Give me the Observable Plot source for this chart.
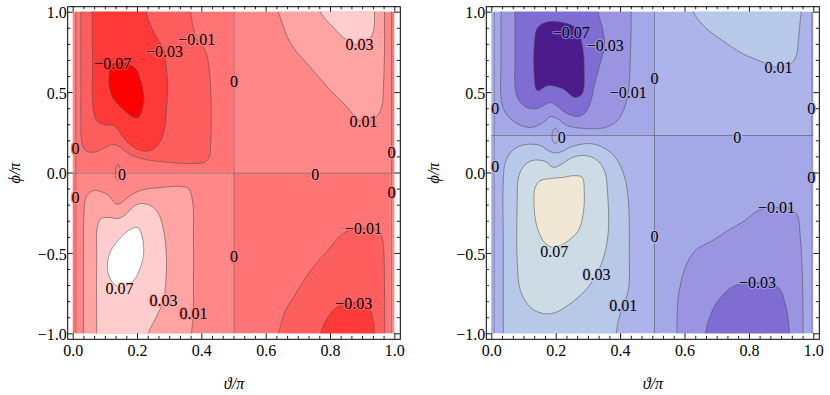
<!DOCTYPE html>
<html><head><meta charset="utf-8">
<script src="https://cdn.jsdelivr.net/npm/d3@7"></script>
<script src="https://cdn.jsdelivr.net/npm/@observablehq/plot@0.6"></script>
<style>
body{margin:0;background:#fff;font-family:"Liberation Serif","Times New Roman",serif;}
#wrap{display:flex;width:830px;height:395px;overflow:hidden;}
#wrap svg{display:block;flex:none;font-family:"Liberation Serif","Times New Roman",serif !important;}
#wrap svg text, #wrap svg g{font-family:"Liberation Serif","Times New Roman",serif !important;}
</style></head><body><div id="wrap"></div>
<script>
// contour levels and band colours (8 bands between the 7 levels)
const levels = [-0.07, -0.03, -0.01, 0, 0.01, 0.03, 0.07];
const redColors = ["#ff0000", "#ff3838", "#ff5e5e", "#ff7575", "#ff8787", "#ffa3a3", "#ffcdcd", "#ffffff"];
const purpleColors = ["#4b1b8b", "#7f6dd3", "#9b94e1", "#a4a8e7", "#acb4ea", "#b8c8e8", "#cddbe4", "#f1e7d5"];

// tick values and labels
const xTickValues = [0, 0.2, 0.4, 0.6, 0.8, 1];
const xTickLabels = ["0.0", "0.2", "0.4", "0.6", "0.8", "1.0"];
const yTickValues = [-1, -0.5, 0, 0.5, 1];
const yTickLabels = ["\u22121.0", "\u22120.5", "0.0", "0.5", "1.0"];

// ---------- left panel (red) ----------
const leftZeroTheta = [0, 0.008, 0.5, 0.989, 1];
const leftZeroPhi = [-1, 0, 1];
const leftSigns = [[-1, 1, -1, 1], [1, -1, 1, -1]]; // rows: phi bands bottom->top
const L_tl_m001 = [[0.024,1.2],[0.024,1.0],[0.024,0.70],[0.024,0.33],[0.026,0.20],[0.038,0.14],[0.069,0.13],[0.100,0.16],[0.125,0.177],[0.147,0.159],[0.178,0.115],[0.225,0.084],[0.304,0.065],[0.381,0.059],[0.410,0.068],[0.423,0.10],[0.427,0.16],[0.429,0.33],[0.426,0.575],[0.411,0.76],[0.384,0.83],[0.372,0.92],[0.365,1.0],[0.365,1.2]];
const L_tl_m003 = [[0.059,1.2],[0.059,1.0],[0.060,0.70],[0.063,0.39],[0.076,0.32],[0.100,0.30],[0.125,0.295],[0.141,0.264],[0.169,0.19],[0.209,0.14],[0.240,0.14],[0.262,0.17],[0.281,0.245],[0.290,0.39],[0.293,0.575],[0.287,0.70],[0.284,0.755],[0.256,0.855],[0.234,0.95],[0.228,1.0],[0.228,1.2]];
const L_tl_m007 = [[0.125,0.680],[0.165,0.680],[0.194,0.650],[0.209,0.575],[0.219,0.482],[0.215,0.401],[0.203,0.345],[0.184,0.351],[0.153,0.401],[0.125,0.463],[0.113,0.532],[0.113,0.625]];
const L_bl_p001 = [[0.032,-1.2],[0.032,-1.0],[0.032,-0.544],[0.034,-0.233],[0.041,-0.146],[0.063,-0.109],[0.085,-0.115],[0.110,-0.140],[0.132,-0.19],[0.147,-0.19],[0.169,-0.152],[0.209,-0.109],[0.271,-0.09],[0.334,-0.084],[0.358,-0.096],[0.371,-0.171],[0.374,-0.42],[0.374,-0.73],[0.374,-0.874],[0.368,-1.0],[0.368,-1.2]];
const L_bl_p003 = [[0.073,-1.2],[0.073,-1.0],[0.073,-0.544],[0.076,-0.327],[0.088,-0.283],[0.116,-0.277],[0.141,-0.283],[0.163,-0.258],[0.188,-0.208],[0.209,-0.19],[0.240,-0.202],[0.265,-0.252],[0.284,-0.389],[0.290,-0.544],[0.287,-0.70],[0.281,-0.793],[0.256,-0.905],[0.234,-1.0],[0.228,-1.2]];
const L_bl_p007 = [[0.200,-0.339],[0.215,-0.401],[0.219,-0.501],[0.209,-0.588],[0.188,-0.669],[0.153,-0.712],[0.125,-0.687],[0.107,-0.606],[0.113,-0.501],[0.135,-0.432],[0.172,-0.358]];
const L_tr_p001 = [[0.600,1.2],[0.638,1.0],[0.676,0.805],[0.738,0.656],[0.800,0.513],[0.853,0.407],[0.878,0.345],[0.903,0.320],[0.940,0.345],[0.959,0.407],[0.965,0.557],[0.968,0.762],[0.968,1.0],[0.968,1.2]];
const L_tr_p003 = [[0.740,1.2],[0.769,1.0],[0.809,0.905],[0.840,0.843],[0.868,0.805],[0.890,0.799],[0.918,0.824],[0.934,0.886],[0.937,1.0],[0.937,1.2]];
const L_br_m001 = [[0.610,-1.2],[0.638,-1.0],[0.660,-0.855],[0.685,-0.774],[0.738,-0.606],[0.791,-0.482],[0.840,-0.376],[0.872,-0.351],[0.903,-0.345],[0.940,-0.351],[0.959,-0.395],[0.966,-0.501],[0.968,-0.712],[0.969,-1.0],[0.969,-1.2]];
const L_br_m003 = [[0.760,-1.2],[0.769,-1.0],[0.791,-0.899],[0.819,-0.836],[0.847,-0.812],[0.872,-0.806],[0.903,-0.812],[0.924,-0.855],[0.934,-0.936],[0.937,-1.0],[0.937,-1.2]];
const L_zeroIsland = [[0.139,0.056],[0.146,0.03],[0.147,0.0],[0.145,-0.03],[0.139,-0.045],[0.132,-0.03],[0.131,0.0],[0.133,0.03]];
const leftContours = [
  {level: -0.01, pts: L_tl_m001}, {level: -0.03, pts: L_tl_m003}, {level: -0.07, pts: L_tl_m007},
  {level: 0.01, pts: L_bl_p001}, {level: 0.03, pts: L_bl_p003}, {level: 0.07, pts: L_bl_p007},
  {level: 0.01, pts: L_tr_p001}, {level: 0.03, pts: L_tr_p003},
  {level: -0.01, pts: L_br_m001}, {level: -0.03, pts: L_br_m003}
];
const leftLabels = [
  {t:"\u22120.07", x:0.123, y:0.678, bg:-0.04},
  {t:"\u22120.03", x:0.284, y:0.756, bg:-0.02},
  {t:"\u22120.01", x:0.384, y:0.830, bg:-0.005},
  {t:"0.03", x:0.890, y:0.799, bg:0.02},
  {t:"0.01", x:0.903, y:0.320, bg:0.005},
  {t:"\u22120.01", x:0.903, y:-0.345, bg:-0.005},
  {t:"\u22120.03", x:0.872, y:-0.812, bg:-0.02},
  {t:"0.07", x:0.144, y:-0.718, bg:0.04},
  {t:"0.03", x:0.281, y:-0.793, bg:0.02},
  {t:"0.01", x:0.374, y:-0.874, bg:0.005},
  {t:"0", x:0.007, y:0.152, bg:-0.005},
  {t:"0", x:0.007, y:-0.152, bg:0.005},
  {t:"0", x:0.152, y:-0.009, bg:0.005},
  {t:"0", x:0.5, y:0.569, bg:-0.005},
  {t:"0", x:0.753, y:-0.009, bg:0.005},
  {t:"0", x:0.99, y:0.127, bg:0.005},
  {t:"0", x:0.99, y:-0.121, bg:-0.005},
  {t:"0", x:0.5, y:-0.519, bg:-0.005}
];

// ---------- right panel (purple) ----------
const rightZeroTheta = [0, 0.007, 0.505, 0.994, 1];
const rightZeroPhi = [-1, 0.233, 1];
const rightSigns = [[-1, 1, -1, 1], [1, -1, 1, -1]];
const R_tl_m001 = [[0.0286,1.2],[0.0286,1.0],[0.0286,0.700],[0.0295,0.451],[0.042,0.376],[0.073,0.314],[0.120,0.283],[0.160,0.314],[0.182,0.351],[0.203,0.339],[0.234,0.295],[0.290,0.277],[0.352,0.283],[0.390,0.326],[0.411,0.401],[0.424,0.501],[0.430,0.700],[0.433,1.0],[0.433,1.2]];
const R_tl_m003 = [[0.072,1.2],[0.072,1.0],[0.072,0.700],[0.073,0.525],[0.085,0.451],[0.110,0.407],[0.141,0.401],[0.166,0.426],[0.182,0.438],[0.200,0.420],[0.228,0.376],[0.266,0.351],[0.290,0.376],[0.308,0.451],[0.318,0.544],[0.335,0.669],[0.350,0.793],[0.345,0.886],[0.331,1.0],[0.331,1.2]];
const R_tl_m007 = [[0.141,0.513],[0.175,0.544],[0.219,0.525],[0.259,0.470],[0.281,0.494],[0.287,0.637],[0.281,0.793],[0.262,0.899],[0.219,0.936],[0.166,0.936],[0.141,0.899],[0.132,0.793],[0.132,0.606]];
const R_bl_p001 = [[0.0357,-1.2],[0.0357,-1.0],[0.0357,-0.482],[0.0357,-0.047],[0.042,0.065],[0.064,0.140],[0.104,0.177],[0.151,0.171],[0.175,0.140],[0.194,0.125],[0.213,0.130],[0.250,0.165],[0.306,0.183],[0.352,0.152],[0.384,0.096],[0.411,-0.016],[0.424,-0.171],[0.427,-0.482],[0.424,-0.731],[0.408,-0.824],[0.393,-0.917],[0.387,-1.0],[0.387,-1.2]];
const R_bl_p003 = [[0.079,-0.171],[0.082,-0.034],[0.098,0.040],[0.126,0.078],[0.166,0.072],[0.191,0.035],[0.213,0.050],[0.250,0.096],[0.290,0.109],[0.328,0.078],[0.352,0.003],[0.359,-0.109],[0.362,-0.358],[0.349,-0.513],[0.325,-0.631],[0.290,-0.731],[0.244,-0.812],[0.197,-0.868],[0.160,-0.874],[0.120,-0.836],[0.089,-0.731],[0.079,-0.544]];
const R_bl_p007 = [[0.135,-0.090],[0.151,-0.047],[0.182,-0.034],[0.219,-0.028],[0.259,-0.016],[0.281,-0.028],[0.287,-0.109],[0.284,-0.252],[0.269,-0.358],[0.238,-0.420],[0.213,-0.451],[0.191,-0.463],[0.166,-0.438],[0.144,-0.358],[0.132,-0.233]];
const R_tr_p001 = [[0.600,1.2],[0.626,1.0],[0.663,0.905],[0.716,0.824],[0.778,0.743],[0.828,0.700],[0.859,0.675],[0.890,0.656],[0.927,0.675],[0.946,0.731],[0.952,0.824],[0.958,0.948],[0.961,1.0],[0.961,1.2]];
const R_br_m001 = [[0.575,-1.2],[0.575,-1.0],[0.579,-0.774],[0.601,-0.588],[0.632,-0.482],[0.685,-0.420],[0.734,-0.358],[0.787,-0.295],[0.828,-0.233],[0.884,-0.215],[0.927,-0.221],[0.949,-0.264],[0.958,-0.401],[0.964,-0.606],[0.967,-1.0],[0.967,-1.2]];
const R_br_m003 = [[0.655,-1.2],[0.663,-1.0],[0.685,-0.855],[0.716,-0.762],[0.756,-0.700],[0.825,-0.681],[0.890,-0.712],[0.911,-0.812],[0.921,-0.917],[0.924,-1.0],[0.924,-1.2]];
const R_zeroIsland = [[0.197,0.277],[0.205,0.26],[0.207,0.23],[0.205,0.20],[0.197,0.183],[0.189,0.20],[0.187,0.23],[0.189,0.26]];
const rightContours = [
  {level: -0.01, pts: R_tl_m001}, {level: -0.03, pts: R_tl_m003}, {level: -0.07, pts: R_tl_m007},
  {level: 0.01, pts: R_bl_p001}, {level: 0.03, pts: R_bl_p003}, {level: 0.07, pts: R_bl_p007},
  {level: 0.01, pts: R_tr_p001},
  {level: -0.01, pts: R_br_m001}, {level: -0.03, pts: R_br_m003}
];
const rightLabels = [
  {t:"\u22120.07", x:0.247, y:0.874, bg:-0.04},
  {t:"\u22120.03", x:0.352, y:0.793, bg:-0.02},
  {t:"\u22120.01", x:0.424, y:0.501, bg:-0.005},
  {t:"0.01", x:0.890, y:0.656, bg:0.005},
  {t:"\u22120.01", x:0.884, y:-0.215, bg:-0.005},
  {t:"\u22120.03", x:0.825, y:-0.681, bg:-0.02},
  {t:"0.07", x:0.194, y:-0.488, bg:0.04},
  {t:"0.03", x:0.325, y:-0.631, bg:0.02},
  {t:"0.01", x:0.408, y:-0.824, bg:0.005},
  {t:"0", x:0.011, y:0.401, bg:-0.005},
  {t:"0", x:0.011, y:0.040, bg:0.005},
  {t:"0", x:0.217, y:0.221, bg:0.005},
  {t:"0", x:0.505, y:0.588, bg:-0.005},
  {t:"0", x:0.762, y:0.221, bg:0.005},
  {t:"0", x:0.992, y:0.401, bg:0.005},
  {t:"0", x:0.992, y:-0.028, bg:-0.005},
  {t:"0", x:0.505, y:-0.395, bg:0.005}
];

const SERIF = "Liberation Serif, Times New Roman, serif";

function makePanel(cfg) {
  const {width, marginLeft, marginRight, colors, zeroTheta, zeroPhi, signs, contourList, island, labels} = cfg;
  const height = 395, marginTop = 11.7, marginBottom = 61.7;
  const pw = width - marginLeft - marginRight;
  const ph = height - marginTop - marginBottom;
  const pad = 5.5, majorLen = 5.5, minorLen = 3;
  const cells = [];
  for (let i = 0; i < zeroPhi.length - 1; i++)
    for (let j = 0; j < zeroTheta.length - 1; j++)
      cells.push({x1: zeroTheta[j], x2: zeroTheta[j + 1], y1: zeroPhi[i], y2: zeroPhi[i + 1], v: signs[i][j] * 0.005});
  const rows = contourList.flatMap((c, k) => c.pts.map(([x, y]) => ({id: k, x, y, v: c.level + Math.sign(c.level) * 0.01})));
  const islandRows = island.map(([x, y]) => ({x, y}));
  const lineStyle = {stroke: "#4a4a4a", strokeOpacity: 0.6, strokeWidth: 0.9};
  const near = (a, v) => a.some(t => Math.abs(t - v) < 1e-9);
  const xMinor = d3.range(31).map(i => i / 30).filter(v => !near(xTickValues, v));
  const yMinor = d3.range(21).map(i => -1 + i / 10).filter(v => !near(yTickValues, v));
  const tk = {stroke: "black", strokeWidth: 0.9};
  const fs = 16;
  const txt = {fontFamily: SERIF, fontSize: fs, fill: "black"};
  return Plot.plot({
    width, height, marginLeft, marginRight, marginTop, marginBottom,
    style: {background: "white", overflow: "visible", fontFamily: SERIF},
    x: {domain: [0, 1], axis: null},
    y: {domain: [-1, 1], axis: null},
    color: {type: "threshold", domain: levels, range: colors},
    marks: [
      Plot.rect(cells, {x1: "x1", x2: "x2", y1: "y1", y2: "y2", fill: "v"}),
      Plot.line(rows, {x: "x", y: "y", z: "id", fill: "v", curve: "catmull-rom-closed", clip: true, ...lineStyle}),
      Plot.ruleX(zeroTheta.slice(1, -1), lineStyle),
      Plot.ruleY(zeroPhi.slice(1, -1), lineStyle),
      Plot.line(islandRows, {x: "x", y: "y", curve: "catmull-rom-closed", fill: "none", ...lineStyle}),
      Plot.text(labels, {x: "x", y: "y", text: "t", stroke: "bg", strokeWidth: 2.5, paintOrder: "stroke", ...txt}),
      Plot.frame({inset: -pad, stroke: "black", strokeWidth: 1}),
      // inward ticks on all four sides
      Plot.tickX(xTickValues, {x: d => d, insetBottom: -pad, insetTop: ph + pad - majorLen, ...tk}),
      Plot.tickX(xMinor, {x: d => d, insetBottom: -pad, insetTop: ph + pad - minorLen, ...tk}),
      Plot.tickX(xTickValues, {x: d => d, insetTop: -pad, insetBottom: ph + pad - majorLen, ...tk}),
      Plot.tickX(xMinor, {x: d => d, insetTop: -pad, insetBottom: ph + pad - minorLen, ...tk}),
      Plot.tickY(yTickValues, {y: d => d, insetLeft: -pad, insetRight: pw + pad - majorLen, ...tk}),
      Plot.tickY(yMinor, {y: d => d, insetLeft: -pad, insetRight: pw + pad - minorLen, ...tk}),
      Plot.tickY(yTickValues, {y: d => d, insetRight: -pad, insetLeft: pw + pad - majorLen, ...tk}),
      Plot.tickY(yMinor, {y: d => d, insetRight: -pad, insetLeft: pw + pad - minorLen, ...tk}),
      // tick labels
      Plot.text(xTickValues, {x: d => d, y: () => -1, text: (d, i) => xTickLabels[i], dy: 17, ...txt}),
      Plot.text(yTickValues, {x: () => 0, y: d => d, text: (d, i) => yTickLabels[i], dx: -6.5, dy: 1, textAnchor: "end", ...txt}),
      // axis titles
      Plot.text(["\u03d1/\u03c0"], {x: () => 0.5, y: () => -1, text: d => d, dy: 50, fontStyle: "italic", ...txt}),
      Plot.text(["\u03d5/\u03c0"], {x: () => 0, y: () => 0, text: d => d, dx: -58, rotate: -90, fontStyle: "italic", ...txt})
    ]
  });
}

const wrap = document.getElementById("wrap");
wrap.appendChild(makePanel({
  width: 415, marginLeft: 72.7, marginRight: 20.7, colors: redColors,
  zeroTheta: leftZeroTheta, zeroPhi: leftZeroPhi, signs: leftSigns,
  contourList: leftContours, island: L_zeroIsland, labels: leftLabels
}));
wrap.appendChild(makePanel({
  width: 415, marginLeft: 76.3, marginRight: 16.7, colors: purpleColors,
  zeroTheta: rightZeroTheta, zeroPhi: rightZeroPhi, signs: rightSigns,
  contourList: rightContours, island: R_zeroIsland, labels: rightLabels
}));
</script></body></html>
